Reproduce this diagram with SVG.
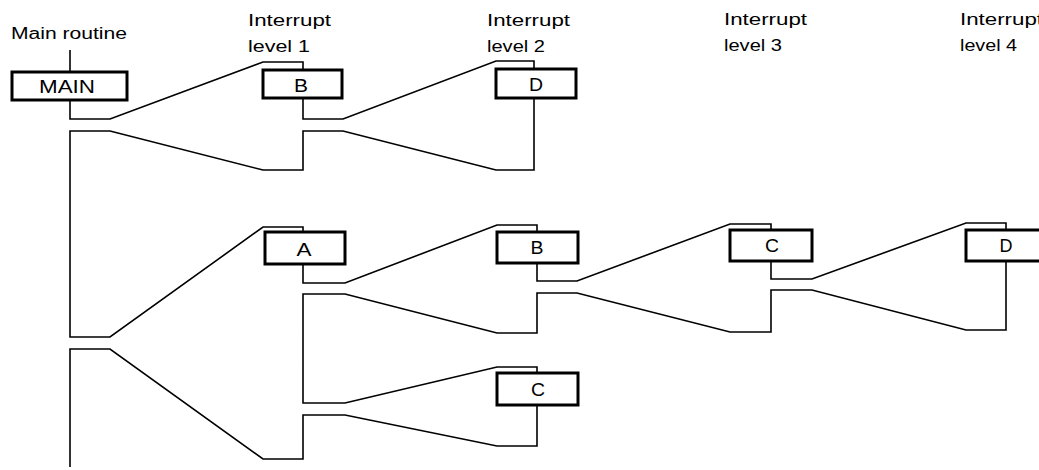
<svg xmlns="http://www.w3.org/2000/svg" width="1039" height="470" viewBox="0 0 1039 470">
<style>
.box{fill:#fff;stroke:#000;stroke-width:3}
.ln{fill:none;stroke:#000;stroke-width:1.6;stroke-linejoin:miter}
.lbl{font-family:"Liberation Sans",Arial,sans-serif;font-size:16px;fill:#000}
.nt{font-family:"Liberation Sans",Arial,sans-serif;font-size:18px;fill:#000;text-anchor:middle}
</style>
<rect width="1039" height="470" fill="#fff"/>
<g id="labels">
<text class="lbl" x="11" y="39" textLength="116" lengthAdjust="spacingAndGlyphs">Main routine</text>
<text class="lbl" x="248" y="26" textLength="83" lengthAdjust="spacingAndGlyphs">Interrupt</text>
<text class="lbl" x="248" y="52" textLength="62" lengthAdjust="spacingAndGlyphs">level 1</text>
<text class="lbl" x="487" y="26" textLength="83" lengthAdjust="spacingAndGlyphs">Interrupt</text>
<text class="lbl" x="487" y="52" textLength="58" lengthAdjust="spacingAndGlyphs">level 2</text>
<text class="lbl" x="724" y="25" textLength="83" lengthAdjust="spacingAndGlyphs">Interrupt</text>
<text class="lbl" x="724" y="51" textLength="58" lengthAdjust="spacingAndGlyphs">level 3</text>
<text class="lbl" x="960" y="25" textLength="83" lengthAdjust="spacingAndGlyphs">Interrupt</text>
<text class="lbl" x="960" y="51" textLength="57" lengthAdjust="spacingAndGlyphs">level 4</text>
</g>
<g id="connectors">
<polyline class="ln" points="70,50 70,72"/>
<polyline class="ln" points="70,100 70,119 110,119 263,62 303,62 303,70"/>
<polyline class="ln" points="303,98 303,119 343,119 496,61 534,61 534,69"/>
<polyline class="ln" points="534,98 534,170 496,170 343,131 303,131 303,170 263,170 110,131 70,131 70,337 110,337 263,227 303,227 303,232"/>
<polyline class="ln" points="303,264 303,283 345,283 497,225 537,225 537,232"/>
<polyline class="ln" points="537,263 537,281 577,281 730,224 771,224 771,230"/>
<polyline class="ln" points="771,261 771,279 812,279 966,223 1006,223 1006,230"/>
<polyline class="ln" points="1006,261 1006,330 966,330 812,290 771,290 771,332 730,332 577,293 537,293 537,333 497,333 345,294 303,294 303,403 345,403 497,367 537,367 537,373"/>
<polyline class="ln" points="537,405 537,446 497,446 345,415 303,415 303,459 263,459 110,349 70,349 70,467"/>
</g>
<g id="node-main">
<rect class="box" x="12" y="72" width="115" height="28"/>
<text class="nt" x="67" y="93" textLength="56" lengthAdjust="spacingAndGlyphs">MAIN</text>
</g>
<g id="node-b1">
<rect class="box" x="263" y="70" width="79" height="28"/>
<text class="nt" x="301" y="92" textLength="14" lengthAdjust="spacingAndGlyphs">B</text>
</g>
<g id="node-d2">
<rect class="box" x="496" y="69" width="80" height="29"/>
<text class="nt" x="536" y="91" textLength="14" lengthAdjust="spacingAndGlyphs">D</text>
</g>
<g id="node-a1">
<rect class="box" x="265" y="232" width="80" height="32"/>
<text class="nt" x="304" y="256" textLength="15" lengthAdjust="spacingAndGlyphs">A</text>
</g>
<g id="node-b2">
<rect class="box" x="497" y="232" width="81" height="31"/>
<text class="nt" x="537" y="254" textLength="13" lengthAdjust="spacingAndGlyphs">B</text>
</g>
<g id="node-c3">
<rect class="box" x="730" y="230" width="82" height="31"/>
<text class="nt" x="772" y="252" textLength="14" lengthAdjust="spacingAndGlyphs">C</text>
</g>
<g id="node-d4">
<rect class="box" x="966" y="230" width="90" height="31"/>
<text class="nt" x="1006" y="252" textLength="13" lengthAdjust="spacingAndGlyphs">D</text>
</g>
<g id="node-c2">
<rect class="box" x="497" y="373" width="81" height="32"/>
<text class="nt" x="538" y="396" textLength="14" lengthAdjust="spacingAndGlyphs">C</text>
</g>
</svg>
